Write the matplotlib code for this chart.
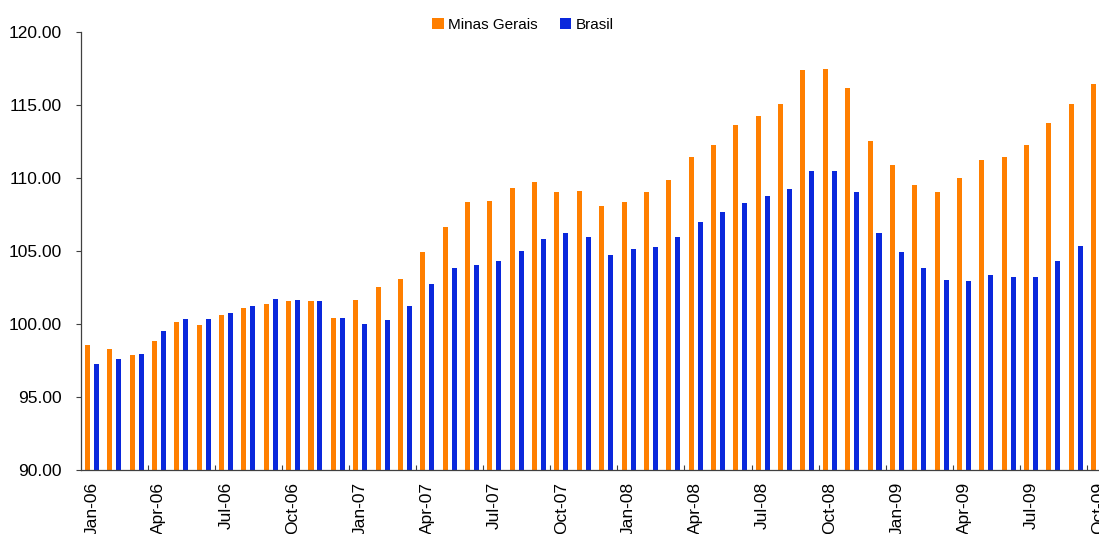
import numpy as np
import matplotlib.pyplot as plt
from matplotlib.ticker import FixedLocator, FormatStrFormatter

plt.rcParams['font.family'] = ['Liberation Sans', 'DejaVu Sans']

# monthly index, Jan-06 .. Oct-09
months = ['Jan-06', 'Feb-06', 'Mar-06', 'Apr-06', 'May-06', 'Jun-06',
          'Jul-06', 'Aug-06', 'Sep-06', 'Oct-06', 'Nov-06', 'Dec-06',
          'Jan-07', 'Feb-07', 'Mar-07', 'Apr-07', 'May-07', 'Jun-07',
          'Jul-07', 'Aug-07', 'Sep-07', 'Oct-07', 'Nov-07', 'Dec-07',
          'Jan-08', 'Feb-08', 'Mar-08', 'Apr-08', 'May-08', 'Jun-08',
          'Jul-08', 'Aug-08', 'Sep-08', 'Oct-08', 'Nov-08', 'Dec-08',
          'Jan-09', 'Feb-09', 'Mar-09', 'Apr-09', 'May-09', 'Jun-09',
          'Jul-09', 'Aug-09', 'Sep-09', 'Oct-09']

minas_gerais = [98.55, 98.27, 97.87, 98.83, 100.13, 99.92,
                100.60, 101.09, 101.34, 101.55, 101.55, 100.39,
                101.62, 102.51, 103.07, 104.91, 106.63, 108.33,
                108.40, 109.29, 109.71, 109.01, 109.08, 108.05,
                108.33, 109.01, 109.85, 111.41, 112.29, 113.60,
                114.27, 115.04, 117.42, 117.49, 116.14, 112.50,
                110.87, 109.50, 109.01, 110.03, 111.20, 111.41,
                112.29, 113.74, 115.04, 116.46]

brasil = [97.24, 97.59, 97.94, 99.50, 100.32, 100.32,
          100.74, 101.23, 101.69, 101.62, 101.55, 100.39,
          99.99, 100.25, 101.23, 102.72, 103.81, 104.02,
          104.30, 104.98, 105.79, 106.21, 105.93, 104.70,
          105.12, 105.26, 105.93, 106.96, 107.70, 108.26,
          108.80, 109.22, 110.45, 110.45, 109.01, 106.21,
          104.91, 103.81, 103.00, 102.93, 103.35, 103.21,
          103.21, 104.30, 105.33, np.nan]

ORANGE = '#FF7F00'
BLUE = '#0A28DC'
AXIS = '#404040'

fig = plt.figure(figsize=(10.99, 5.34), dpi=100)
# plot area runs a little past the right edge of the canvas
ax = fig.add_axes([0.0734, 0.1199, 0.936, 0.8202])

x = np.arange(len(months))
w = 0.224
ax.bar(x - 0.2, minas_gerais, w, color=ORANGE, label='Minas Gerais')
ax.bar(x + 0.2, brasil, w, color=BLUE, label='Brasil')

ax.set_xlim(-0.5, len(months) - 0.5)
ax.set_ylim(90, 120)
ax.set_yticks(np.arange(90, 121, 5))
ax.yaxis.set_major_formatter(FormatStrFormatter('%.2f'))

# labels every quarter, tick marks on the quarter boundaries
ax.set_xticks(x[::3])
ax.set_xticklabels(months[::3], rotation=90, va='top', ha='center')
ax.xaxis.set_minor_locator(FixedLocator(x[3::3] - 0.5))
ax.tick_params(axis='x', which='major', length=0, pad=8.5, labelsize=12.5)
ax.tick_params(axis='x', which='minor', direction='in', length=3.6,
               width=0.8, color=AXIS)
ax.tick_params(axis='y', direction='out', length=3.4, width=0.8,
               color=AXIS, pad=10, labelsize=12.5)

for side in ('top', 'right'):
    ax.spines[side].set_visible(False)
for side in ('left', 'bottom'):
    ax.spines[side].set_color(AXIS)
    ax.spines[side].set_linewidth(0.9)

fig.legend(loc='center', bbox_to_anchor=(523 / 1099, 1 - 25 / 534),
           ncol=2, frameon=False, fontsize=11, handlelength=0.75,
           handleheight=0.75, handletextpad=0.3, columnspacing=1.4)

fig.savefig('out.png', dpi=100)
